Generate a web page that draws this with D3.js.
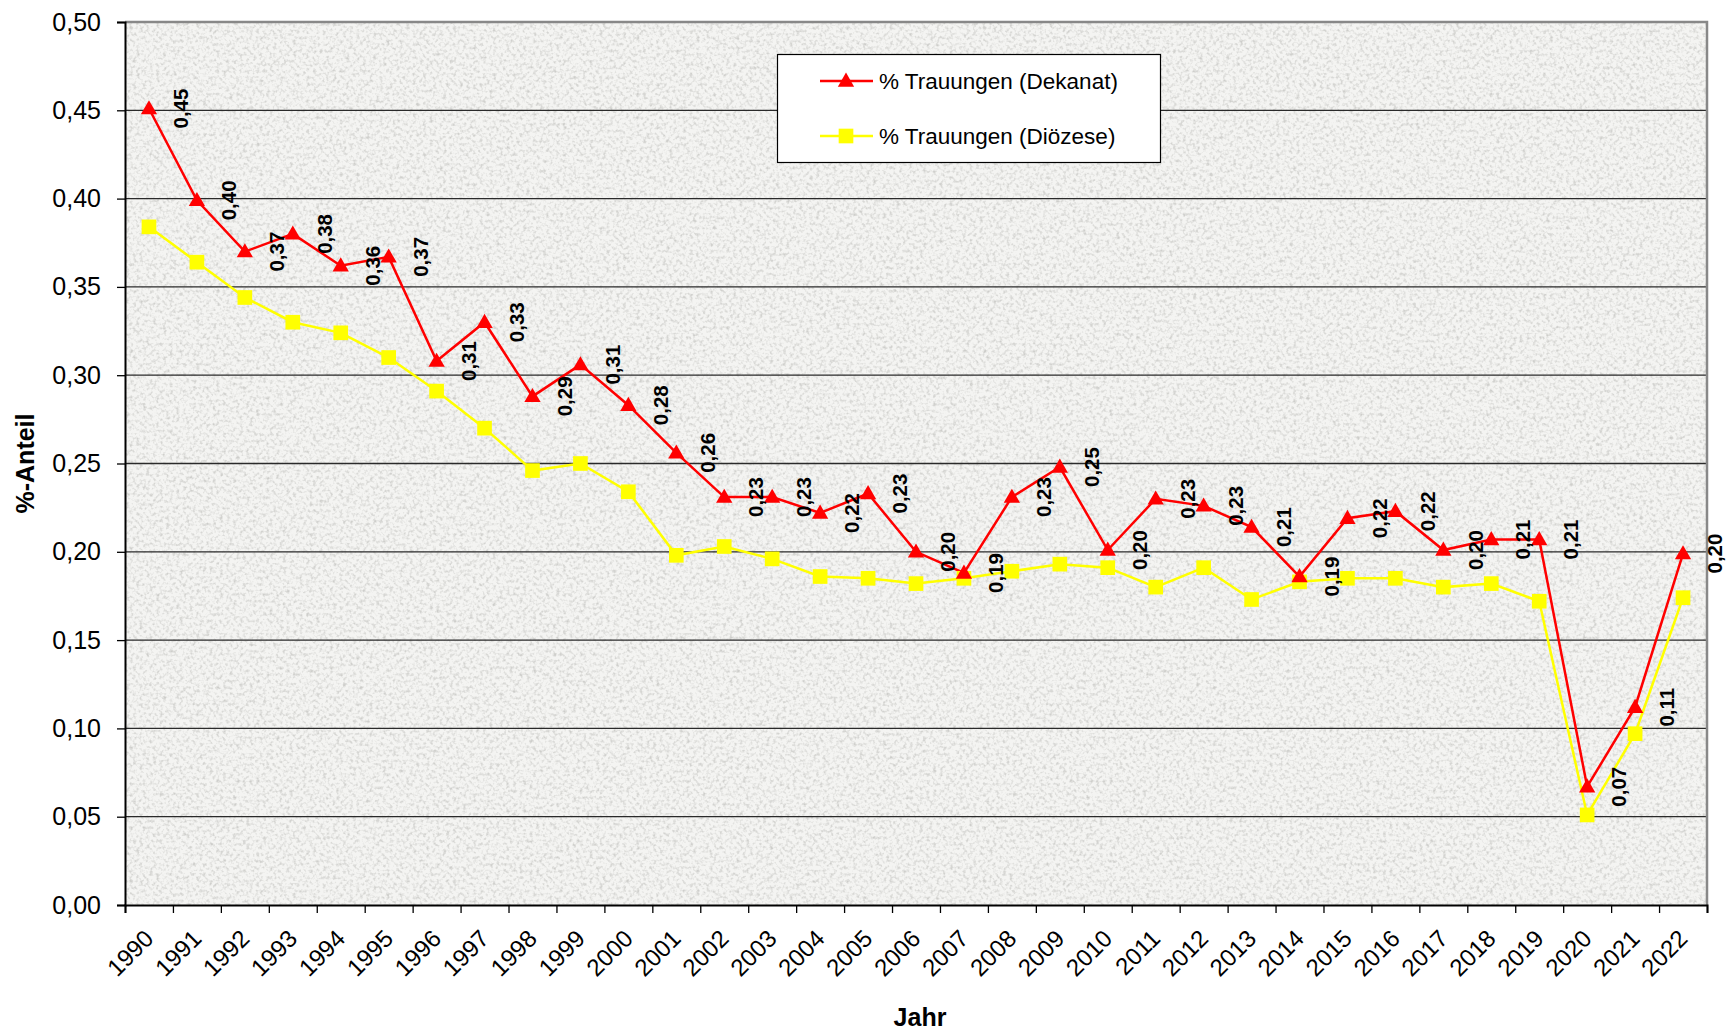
<!DOCTYPE html>
<html>
<head>
<meta charset="utf-8">
<script src="https://cdn.jsdelivr.net/npm/d3@7"></script>
<style>
  body { margin: 0; background: #fff; }
  svg { display: block; font-family: Arial, "Liberation Sans", sans-serif; }
</style>
</head>
<body>
<svg width="1728" height="1030"></svg>
<script>
// Data
const years = d3.range(1990, 2023);
const dekanat = [0.451, 0.399, 0.370, 0.380, 0.362, 0.367, 0.308, 0.330, 0.288, 0.306,
  0.283, 0.256, 0.231, 0.231, 0.222, 0.233, 0.200, 0.188, 0.231, 0.248,
  0.201, 0.230, 0.226, 0.214, 0.186, 0.219, 0.223, 0.201, 0.207, 0.207,
  0.067, 0.112, 0.199];
const dioezese = [0.384, 0.364, 0.344, 0.330, 0.324, 0.310, 0.291, 0.270, 0.246, 0.250,
  0.234, 0.198, 0.203, 0.196, 0.186, 0.185, 0.182, 0.185, 0.189, 0.193,
  0.191, 0.180, 0.191, 0.173, 0.183, 0.185, 0.185, 0.180, 0.182, 0.172,
  0.051, 0.097, 0.174];
const yTicks = [0, 0.05, 0.10, 0.15, 0.20, 0.25, 0.30, 0.35, 0.40, 0.45, 0.50];
const seriesNames = ["% Trauungen (Dekanat)", "% Trauungen (Diözese)"];

const svg = d3.select("svg");
const margin = { left: 125, right: 1707, top: 22, bottom: 905 };

// German number format (comma decimal)
const de = d3.formatLocale({ decimal: ",", thousands: ".", grouping: [3], currency: ["", " €"] });
const fmt = de.format(".2f");

const x = d3.scaleBand().domain(years).range([margin.left, margin.right]).padding(0);
const xEdge = d3.scaleLinear().domain([0, years.length]).range([margin.left, margin.right]);
const y = d3.scaleLinear().domain([0, 0.5]).range([margin.bottom, margin.top]);
const cx = d => x(d) + x.bandwidth() / 2;

// Textured plot background
const defs = svg.append("defs");
const filt = defs.append("filter").attr("id", "granite")
  .attr("filterUnits", "userSpaceOnUse")
  .attr("x", margin.left).attr("y", margin.top)
  .attr("width", margin.right - margin.left).attr("height", margin.bottom - margin.top);
filt.append("feTurbulence").attr("type", "fractalNoise").attr("baseFrequency", "0.3")
  .attr("numOctaves", 2).attr("seed", 7).attr("result", "noise");
filt.append("feColorMatrix").attr("in", "noise").attr("type", "matrix")
  .attr("values", "0 0 0 0 0.62  0 0 0 0 0.62  0 0 0 0 0.60  2.6 0 0 0 -1.2");

svg.append("rect")
  .attr("x", margin.left).attr("y", margin.top)
  .attr("width", margin.right - margin.left).attr("height", margin.bottom - margin.top)
  .attr("fill", "#f4f4f2");
svg.append("rect")
  .attr("x", margin.left).attr("y", margin.top)
  .attr("width", margin.right - margin.left).attr("height", margin.bottom - margin.top)
  .attr("fill", "#fff")
  .attr("filter", "url(#granite)");

// Gridlines
svg.append("g")
  .selectAll("line")
  .data(yTicks.filter(d => d > 0 && d < 0.5))
  .join("line")
  .attr("x1", margin.left).attr("x2", margin.right)
  .attr("y1", d => y(d)).attr("y2", d => y(d))
  .attr("stroke", "#2a2a2a").attr("stroke-width", 1.3);

// Plot frame (top / right grey)
svg.append("path")
  .attr("d", `M${margin.left},${margin.top}H${margin.right}V${margin.bottom}`)
  .attr("fill", "none").attr("stroke", "#888").attr("stroke-width", 2.5);

// Y axis
const yAxis = svg.append("g")
  .attr("transform", `translate(${margin.left},0)`)
  .call(d3.axisLeft(y).tickValues(yTicks).tickFormat(fmt).tickSize(8).tickPadding(16));
yAxis.select(".domain").attr("stroke", "#000").attr("stroke-width", 2);
yAxis.selectAll(".tick line").attr("stroke", "#000").attr("stroke-width", 1.3);
yAxis.selectAll(".tick text").attr("font-size", 25).attr("fill", "#000")
  .attr("font-family", "Arial, 'Liberation Sans', sans-serif");

// X axis (ticks between categories)
const xAxis = svg.append("g")
  .attr("transform", `translate(0,${margin.bottom})`)
  .call(d3.axisBottom(xEdge).tickValues(d3.range(years.length + 1)).tickFormat("").tickSize(8));
xAxis.select(".domain").attr("stroke", "#000").attr("stroke-width", 2);
xAxis.selectAll(".tick line").attr("stroke", "#000").attr("stroke-width", 1.3);

svg.append("g")
  .selectAll("text")
  .data(years)
  .join("text")
  .attr("transform", d => `translate(${cx(d) + 6},${margin.bottom + 35}) rotate(-45)`)
  .attr("text-anchor", "end")
  .attr("font-size", 24)
  .attr("fill", "#000")
  .text(d => d);

// Axis titles
svg.append("text")
  .attr("transform", `translate(34,${(margin.top + margin.bottom) / 2}) rotate(-90)`)
  .attr("text-anchor", "middle")
  .attr("font-size", 25).attr("font-weight", "bold")
  .text("%-Anteil");
svg.append("text")
  .attr("x", (margin.left + margin.right) / 2 + 4).attr("y", 1026)
  .attr("text-anchor", "middle")
  .attr("font-size", 25).attr("font-weight", "bold")
  .text("Jahr");

// Lines
const line = d3.line().x((d, i) => cx(years[i])).y(d => y(d));

svg.append("path").datum(dioezese)
  .attr("d", line).attr("fill", "none")
  .attr("stroke", "#ffff00").attr("stroke-width", 2.5);
svg.append("path").datum(dekanat)
  .attr("d", line).attr("fill", "none")
  .attr("stroke", "#ff0000").attr("stroke-width", 2.5);

const triangle = d3.symbol().type(d3.symbolTriangle).size(115);
const square = d3.symbol().type(d3.symbolSquare).size(215);

svg.append("g").selectAll("path")
  .data(dioezese)
  .join("path")
  .attr("transform", (d, i) => `translate(${cx(years[i])},${y(d)})`)
  .attr("d", square)
  .attr("fill", "#ffff00");

svg.append("g").selectAll("path")
  .data(dekanat)
  .join("path")
  .attr("transform", (d, i) => `translate(${cx(years[i])},${y(d) + 1})`)
  .attr("d", triangle)
  .attr("fill", "#ff0000");

// Data labels for Dekanat
svg.append("g").selectAll("text")
  .data(dekanat)
  .join("text")
  .attr("transform", (d, i) => `translate(${cx(years[i]) + 32},${y(d)}) rotate(-90)`)
  .attr("text-anchor", "middle")
  .attr("dy", "0.35em")
  .attr("font-size", 20.5).attr("font-weight", "bold")
  .attr("fill", "#000")
  .text(d => fmt(d));

// Legend
const legend = svg.append("g");
legend.append("rect")
  .attr("x", 777.5).attr("y", 54.5).attr("width", 383).attr("height", 108)
  .attr("fill", "#fff").attr("stroke", "#000").attr("stroke-width", 1.2);

const legendRows = [
  { name: seriesNames[0], color: "#ff0000", symbol: triangle, dy: 1, y: 81 },
  { name: seriesNames[1], color: "#ffff00", symbol: square, dy: 0, y: 136 }
];
const row = legend.selectAll("g.row").data(legendRows).join("g").attr("class", "row");
row.append("line")
  .attr("x1", 820).attr("x2", 873)
  .attr("y1", d => d.y).attr("y2", d => d.y)
  .attr("stroke", d => d.color).attr("stroke-width", 2.5);
row.append("path")
  .attr("transform", d => `translate(846,${d.y + d.dy})`)
  .attr("d", d => d.symbol())
  .attr("fill", d => d.color);
row.append("text")
  .attr("x", 879).attr("y", d => d.y)
  .attr("dy", "0.35em")
  .attr("font-size", 22.5).attr("fill", "#000")
  .text(d => d.name);
</script>
</body>
</html>
